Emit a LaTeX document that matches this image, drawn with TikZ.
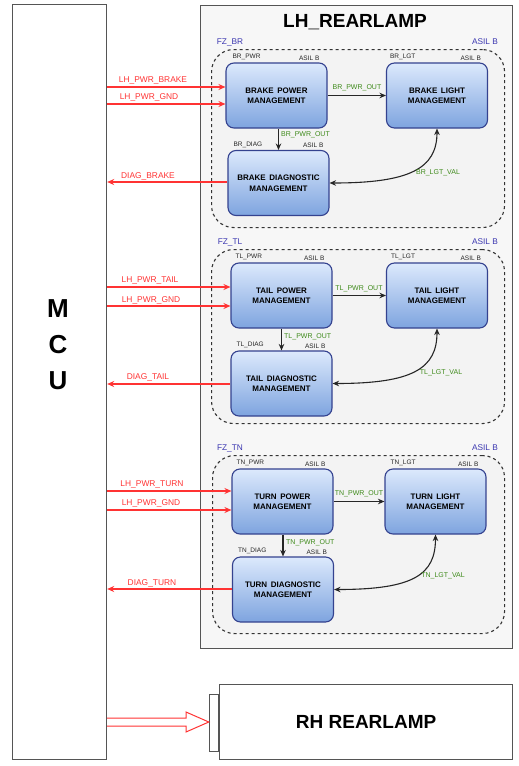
\documentclass[tikz,border=0pt]{standalone}
\usepackage{fontspec}
\setmainfont{Liberation Sans}
\usetikzlibrary{arrows.meta,calc}
\definecolor{redc}{HTML}{FF3333}
\definecolor{grnc}{HTML}{3E8A1A}
\definecolor{bluec}{HTML}{3A36B0}
\definecolor{boxtop}{HTML}{DCE9FC}
\definecolor{boxbot}{HTML}{7EA4DF}
\definecolor{boxline}{HTML}{34428F}
\definecolor{frame}{HTML}{555555}
\definecolor{grpfill}{HTML}{F3F3F3}
\begin{document}
\begin{tikzpicture}[x=1pt,y=-1pt,
  mbox/.style={draw=boxline, line width=1.1pt, rounded corners=8pt,
    top color=boxtop, bottom color=boxbot, minimum width=101pt,
    minimum height=65pt, inner sep=0pt, align=center,
    font=\fontsize{8}{10.5}\selectfont\bfseries},
  grp/.style={draw=black!80, line width=1.1pt, dash pattern=on 3pt off 3pt,
    rounded corners=22pt, fill=grpfill},
  frm/.style={draw=frame, line width=1.2pt},
  tag/.style={inner sep=0pt, font=\fontsize{6.5}{7}\selectfont, text=black!85},
  glbl/.style={inner sep=0pt, font=\fontsize{8.3}{9}\selectfont, text=bluec},
  sig/.style={inner sep=0pt, font=\fontsize{7}{8}\selectfont, text=grnc},
  rlbl/.style={inner sep=0pt, font=\fontsize{8.4}{9}\selectfont, text=redc},
  redarr/.style={draw=redc, line width=1.5pt, -{Stealth[length=7pt,width=6pt]}},
  redback/.style={draw=redc, line width=1.5pt, {Stealth[length=7pt,width=6pt]}-},
  blkarr/.style={draw=black!85, line width=1.1pt, -{Stealth[length=6.5pt,width=5.5pt]}},
  bidir/.style={draw=black!85, line width=1.1pt, {Stealth[length=6.5pt,width=5.5pt]}-{Stealth[length=6.5pt,width=5.5pt]}}
]
\useasboundingbox (0,0) rectangle (519,766);

% MCU
\node[frm, fill=white, minimum width=94pt, minimum height=755pt, inner sep=0pt, anchor=north west] (mcu) at (12,4) {};
\node[align=center, font=\fontsize{26}{36}\selectfont\bfseries] (mcut) at (58,345) {M\\C\\U};

% LH REARLAMP frame
\node[frm, fill=white!97!black, minimum width=312pt, minimum height=643pt, inner sep=0pt, anchor=north west] (lh) at (200,5) {};
\node[font=\fontsize{19}{22}\selectfont\bfseries] (lht) at (355,22) {LH\_REARLAMP};

% ---------- BRAKE group ----------
\node[grp, minimum width=293pt, minimum height=178pt, anchor=north west] (brg) at (211,49) {};
\node[glbl] (brgn) at (230,42) {FZ\_BR};
\node[glbl] (brga) at (485,42) {ASIL B};
\node[mbox] (brpwr) at (276.5,95.5) {BRAKE\, POWER\\MANAGEMENT};
\node[mbox] (brlgt) at (437,95.5) {BRAKE\, LIGHT\\MANAGEMENT};
\node[mbox] (brdiag) at (278.5,183) {BRAKE\, DIAGNOSTIC\\MANAGEMENT};
\node[tag, anchor=south west] (brpwrn) at ($(brpwr.north west)+(7,-2)$) {BR\_PWR};
\node[tag, anchor=south east] (brpwra) at ($(brpwr.north east)+(-8,-2)$) {ASIL B};
\node[tag, anchor=south west] (brlgtn) at ($(brlgt.north west)+(4,-2)$) {BR\_LGT};
\node[tag, anchor=south east] (brlgta) at ($(brlgt.north east)+(-7,-2)$) {ASIL B};
\node[tag, anchor=south west] (brdiagn) at ($(brdiag.north west)+(6,-2)$) {BR\_DIAG};
\node[tag, anchor=south east] (brdiaga) at ($(brdiag.north east)+(-6,-2)$) {ASIL B};
\draw[blkarr] (brpwr.east) -- (brlgt.west);
\node[sig] (brs1) at (357,88) {BR\_PWR\_OUT};
\draw[blkarr] (brdiag.north |- brpwr.south) -- (brdiag.north);
\node[sig, anchor=west] (brs2) at (281,135) {BR\_PWR\_OUT};
\draw[bidir] (brdiag.east) .. controls +(80,0) and +(0,40) .. (brlgt.south);
\node[sig] (brs3) at (438,173) {BR\_LGT\_VAL};
\draw[redarr] (mcu.east |- 0,87) -- (brpwr.west |- 0,87);
\node[rlbl] (brr1) at (153,80) {LH\_PWR\_BRAKE};
\draw[redarr] (mcu.east |- 0,104) -- (brpwr.west |- 0,104);
\node[rlbl] (brr2) at (149,97) {LH\_PWR\_GND};
\draw[redback] (mcu.east |- 0,182) -- (brdiag.west |- 0,182);
\node[rlbl] (brr3) at (148,176) {DIAG\_BRAKE};

% ---------- TAIL group ----------
\node[grp, minimum width=293pt, minimum height=174pt, anchor=north west] (tlg) at (211,249) {};
\node[glbl] (tlgn) at (230,242) {FZ\_TL};
\node[glbl] (tlga) at (485,242) {ASIL B};
\node[mbox] (tlpwr) at (281.5,295.5) {TAIL\, POWER\\MANAGEMENT};
\node[mbox] (tllgt) at (437,295.5) {TAIL\, LIGHT\\MANAGEMENT};
\node[mbox] (tldiag) at (281.5,383.5) {TAIL\, DIAGNOSTIC\\MANAGEMENT};
\node[tag, anchor=south west] (tlpwrn) at ($(tlpwr.north west)+(5,-2)$) {TL\_PWR};
\node[tag, anchor=south east] (tlpwra) at ($(tlpwr.north east)+(-8,-2)$) {ASIL B};
\node[tag, anchor=south west] (tllgtn) at ($(tllgt.north west)+(5,-2)$) {TL\_LGT};
\node[tag, anchor=south east] (tllgta) at ($(tllgt.north east)+(-7,-2)$) {ASIL B};
\node[tag, anchor=south west] (tldiagn) at ($(tldiag.north west)+(6,-2)$) {TL\_DIAG};
\node[tag, anchor=south east] (tldiaga) at ($(tldiag.north east)+(-7,-2)$) {ASIL B};
\draw[blkarr] (tlpwr.east) -- (tllgt.west);
\node[sig] (tls1) at (359,289) {TL\_PWR\_OUT};
\draw[blkarr] (tldiag.north |- tlpwr.south) -- (tldiag.north);
\node[sig, anchor=west] (tls2) at (284,337) {TL\_PWR\_OUT};
\draw[bidir] (tldiag.east) .. controls +(80,0) and +(0,40) .. (tllgt.south);
\node[sig] (tls3) at (441,373) {TL\_LGT\_VAL};
\draw[redarr] (mcu.east |- 0,287) -- (tlpwr.west |- 0,287);
\node[rlbl] (tlr1) at (150,280) {LH\_PWR\_TAIL};
\draw[redarr] (mcu.east |- 0,306) -- (tlpwr.west |- 0,306);
\node[rlbl] (tlr2) at (151,300) {LH\_PWR\_GND};
\draw[redback] (mcu.east |- 0,384) -- (tldiag.west |- 0,384);
\node[rlbl] (tlr3) at (148,377) {DIAG\_TAIL};

% ---------- TURN group ----------
\node[grp, minimum width=292pt, minimum height=178pt, anchor=north west] (tng) at (212,455) {};
\node[glbl] (tngn) at (230,448) {FZ\_TN};
\node[glbl] (tnga) at (485,448) {ASIL B};
\node[mbox] (tnpwr) at (282.5,501.5) {TURN\, POWER\\MANAGEMENT};
\node[mbox] (tnlgt) at (435.5,501.5) {TURN\, LIGHT\\MANAGEMENT};
\node[mbox] (tndiag) at (283,589.5) {TURN\, DIAGNOSTIC\\MANAGEMENT};
\node[tag, anchor=south west] (tnpwrn) at ($(tnpwr.north west)+(5,-2)$) {TN\_PWR};
\node[tag, anchor=south east] (tnpwra) at ($(tnpwr.north east)+(-8,-2)$) {ASIL B};
\node[tag, anchor=south west] (tnlgtn) at ($(tnlgt.north west)+(6,-2)$) {TN\_LGT};
\node[tag, anchor=south east] (tnlgta) at ($(tnlgt.north east)+(-8,-2)$) {ASIL B};
\node[tag, anchor=south west] (tndiagn) at ($(tndiag.north west)+(6,-2)$) {TN\_DIAG};
\node[tag, anchor=south east] (tndiaga) at ($(tndiag.north east)+(-7,-2)$) {ASIL B};
\draw[blkarr] (tnpwr.east) -- (tnlgt.west);
\node[sig] (tns1) at (359,494) {TN\_PWR\_OUT};
\draw[blkarr] (tndiag.north |- tnpwr.south) -- (tndiag.north);
\node[sig, anchor=west] (tns2) at (286,543) {TN\_PWR\_OUT};
\draw[bidir] (tndiag.east) .. controls +(80,0) and +(0,40) .. (tnlgt.south);
\node[sig] (tns3) at (443,576) {TN\_LGT\_VAL};
\draw[redarr] (mcu.east |- 0,491) -- (tnpwr.west |- 0,491);
\node[rlbl] (tnr1) at (152,484) {LH\_PWR\_TURN};
\draw[redarr] (mcu.east |- 0,510) -- (tnpwr.west |- 0,510);
\node[rlbl] (tnr2) at (151,503) {LH\_PWR\_GND};
\draw[redback] (mcu.east |- 0,589) -- (tndiag.west |- 0,589);
\node[rlbl] (tnr3) at (152,583) {DIAG\_TURN};

% ---------- RH REARLAMP ----------
\node[frm, fill=white, minimum width=293pt, minimum height=75pt, inner sep=0pt, anchor=north west, font=\fontsize{19}{22}\selectfont\bfseries] (rh) at (219,684) {RH REARLAMP};
\node[frm, fill=white, minimum width=9pt, minimum height=57pt, inner sep=0pt, anchor=north east] (rhport) at (rh.west |- 0,694) {};
\draw[draw=redc, line width=1pt, fill=white] (mcu.east |- 0,718) -- (186,718) -- (186,712) -- (rhport.west |- 0,722) -- (186,732) -- (186,726) -- (mcu.east |- 0,726);
\end{tikzpicture}
\end{document}
